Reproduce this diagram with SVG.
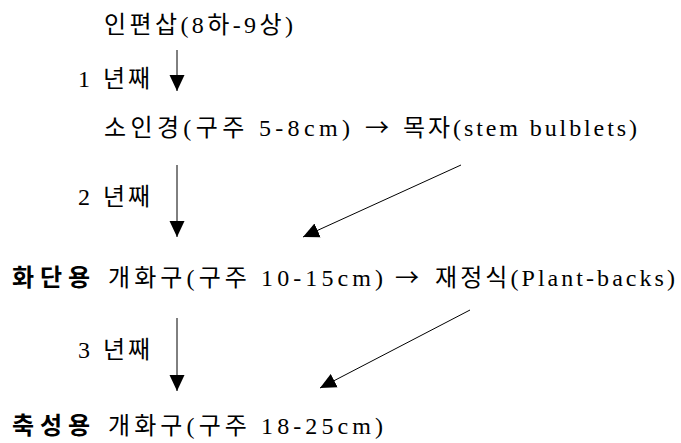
<svg xmlns="http://www.w3.org/2000/svg" width="681" height="443" viewBox="0 0 681 443">
<style>
.t{font-family:"Liberation Serif","Noto Sans CJK KR",serif;font-size:24px;fill:#000}
.a{font-family:"Noto Sans CJK KR","DejaVu Sans",sans-serif;font-size:24px;fill:#000}
.b{font-family:"Noto Sans CJK KR","Liberation Sans",sans-serif;font-size:24px;font-weight:bold;fill:#000}
.c{stroke:#000;stroke-width:1;fill:none;marker-end:url(#ah)}
</style>
<defs>
<marker id="ah" markerUnits="userSpaceOnUse" markerWidth="17" markerHeight="16" refX="16" refY="7.5" orient="auto" viewBox="0 0 17 15">
<path d="M0,0 L16,7.5 L0,15 z" fill="#000"/>
</marker>
</defs>
<rect width="681" height="443" fill="#fff"/>
<g id="n1"><text class="t" x="104" y="33" textLength="189" lengthAdjust="spacing">인편삽(8하-9상)</text></g>
<g id="l1"><text class="t" x="78" y="87">1</text><text class="t" x="103" y="87" textLength="47" lengthAdjust="spacing">년째</text></g>
<g id="n2"><text class="t" x="104" y="136" textLength="246" lengthAdjust="spacing">소인경(구주 5-8cm)</text><text class="a" x="365" y="136">→</text><text class="t" x="403" y="136" textLength="234" lengthAdjust="spacing">목자(stem bulblets)</text></g>
<g id="l2"><text class="t" x="78" y="205">2</text><text class="t" x="103" y="205" textLength="47" lengthAdjust="spacing">년째</text></g>
<g id="n3"><text class="b" x="12" y="286" textLength="78" lengthAdjust="spacing">화단용</text><text class="t" x="108" y="286" textLength="275" lengthAdjust="spacing">개화구(구주 10-15cm)</text><text class="a" x="395" y="286">→</text><text class="t" x="435" y="286" textLength="240" lengthAdjust="spacing">재정식(Plant-backs)</text></g>
<g id="l3"><text class="t" x="78" y="358">3</text><text class="t" x="103" y="358" textLength="47" lengthAdjust="spacing">년째</text></g>
<g id="n4"><text class="b" x="12" y="434" textLength="78" lengthAdjust="spacing">축성용</text><text class="t" x="108" y="434" textLength="275" lengthAdjust="spacing">개화구(구주 18-25cm)</text></g>
<g id="connectors">
<line class="c" x1="177" y1="50" x2="177" y2="91"/>
<line class="c" x1="177" y1="165" x2="177" y2="237"/>
<line class="c" x1="461" y1="165" x2="303" y2="237"/>
<line class="c" x1="177" y1="318" x2="177" y2="391"/>
<line class="c" x1="470" y1="310" x2="320" y2="388"/>
</g>
</svg>
